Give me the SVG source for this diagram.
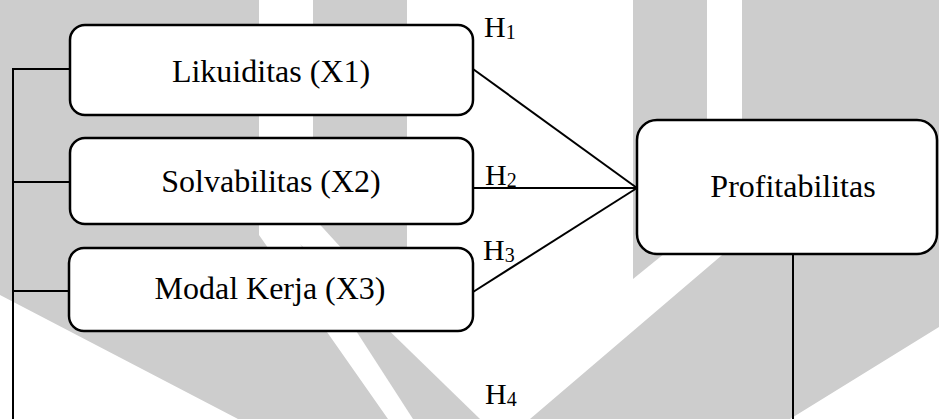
<svg xmlns="http://www.w3.org/2000/svg" width="939" height="419" viewBox="0 0 939 419">
<style>
.wm{fill:#cdcdcd;stroke:none}
.box{fill:#ffffff;stroke:#000000;stroke-width:2.5}
.ln{fill:none;stroke:#000000;stroke-width:2}
.t{font-family:"Liberation Serif","Times New Roman",serif;font-size:32px;fill:#000000;text-anchor:middle}
.h{font-family:"Liberation Serif","Times New Roman",serif;font-size:30px;fill:#000000}
.s{font-size:20px}
</style>
<rect x="0" y="0" width="939" height="419" fill="#ffffff"/>
<g id="watermark">
<polygon class="wm" points="0,0 259,0 259,235 388,419 238,419 0,295"/>
<polygon class="wm" points="313,0 407,0 407,320 313,217"/>
<polygon class="wm" points="300,244 480,419 413,419"/>
<polygon class="wm" points="633,0 707,0 707,219 633,279"/>
<polygon class="wm" points="742,0 939,0 939,327 790,419 530,419 742,238"/>
</g>
<g id="connectors">
<polyline class="ln" points="70,69 13,69 13,419"/>
<line class="ln" x1="13" y1="182" x2="70" y2="182"/>
<line class="ln" x1="13" y1="291" x2="70" y2="291"/>
<line class="ln" x1="473" y1="69" x2="637" y2="188"/>
<line class="ln" x1="473" y1="188" x2="637" y2="188"/>
<line class="ln" x1="473" y1="292" x2="637" y2="188"/>
<line class="ln" x1="793" y1="254" x2="793" y2="419"/>
</g>
<g id="x1">
<rect class="box" x="70" y="25" width="403" height="90" rx="15" ry="15"/>
<text class="t" x="271" y="82">Likuiditas (X1)</text>
</g>
<g id="x2">
<rect class="box" x="70" y="138" width="403" height="86" rx="15" ry="15"/>
<text class="t" x="271" y="192">Solvabilitas (X2)</text>
</g>
<g id="x3">
<rect class="box" x="69" y="248" width="404" height="83" rx="15" ry="15"/>
<text class="t" x="270" y="299">Modal Kerja (X3)</text>
</g>
<g id="y">
<rect class="box" x="637" y="120" width="300" height="134" rx="20" ry="20"/>
<text class="t" x="793" y="197">Profitabilitas</text>
</g>
<g id="labels">
<text class="h" x="484" y="37">H<tspan class="s" dy="2">1</tspan></text>
<text class="h" x="485" y="185">H<tspan class="s" dy="2">2</tspan></text>
<text class="h" x="483" y="260">H<tspan class="s" dy="2">3</tspan></text>
<text class="h" x="485" y="404">H<tspan class="s" dy="2">4</tspan></text>
</g>
</svg>
